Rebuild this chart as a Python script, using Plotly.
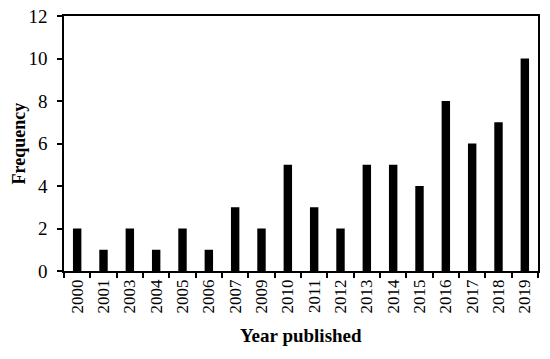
import plotly.graph_objects as go

# ── Data ────────────────────────────────────────────────────────────────────
YEARS = ["2000", "2001", "2003", "2004", "2005", "2006", "2007", "2009", "2010",
         "2011", "2012", "2013", "2014", "2015", "2016", "2017", "2018", "2019"]
FREQUENCY = [2, 1, 2, 1, 2, 1, 3, 2, 5, 3, 2, 5, 5, 4, 8, 6, 7, 10]
Y_TICKS = [0, 2, 4, 6, 8, 10, 12]

INK = "#000000"
FONT_FAMILY = '"Liberation Serif", "DejaVu Serif", serif'

fig = go.Figure(
    go.Bar(
        x=YEARS,
        y=FREQUENCY,
        marker=dict(color=INK, line=dict(width=0)),
        width=0.32,
    )
)

fig.update_layout(
    width=550,
    height=359,
    margin=dict(l=64, r=12, t=16, b=88),
    paper_bgcolor="white",
    plot_bgcolor="white",
    showlegend=False,
    font=dict(family=FONT_FAMILY, color=INK, size=16),
)

axis_common = dict(
    ticks="outside",
    ticklen=5,
    tickwidth=1.5,
    tickcolor=INK,
    showline=True,
    linecolor=INK,
    linewidth=1.5,
    mirror=True,
    showgrid=False,
    automargin=False,
)

fig.update_xaxes(
    type="category",
    tickangle=-90,
    tickson="boundaries",
    tickfont=dict(size=17),
    **axis_common,
)
fig.update_yaxes(
    range=[0, 12],
    tickvals=Y_TICKS,
    zeroline=False,
    tickfont=dict(size=19),
    ticklabelstandoff=6,
    **axis_common,
)

# axis titles placed as annotations in paper coordinates
fig.add_annotation(
    text="<b>Year published</b>", xref="paper", yref="paper",
    x=0.5, y=-0.252, xanchor="center", yanchor="middle",
    showarrow=False, font=dict(size=19),
)
fig.add_annotation(
    text="<b>Frequency</b>", xref="paper", yref="paper",
    x=-0.095, y=0.5, xanchor="center", yanchor="middle", textangle=-90,
    showarrow=False, font=dict(size=18),
)

# drop the browser's default 8px body margin so the figure sits at the page corner
fig.write_html(
    "out.html",
    config={"displayModeBar": False},
    post_script="document.body.style.margin='0';",
)
